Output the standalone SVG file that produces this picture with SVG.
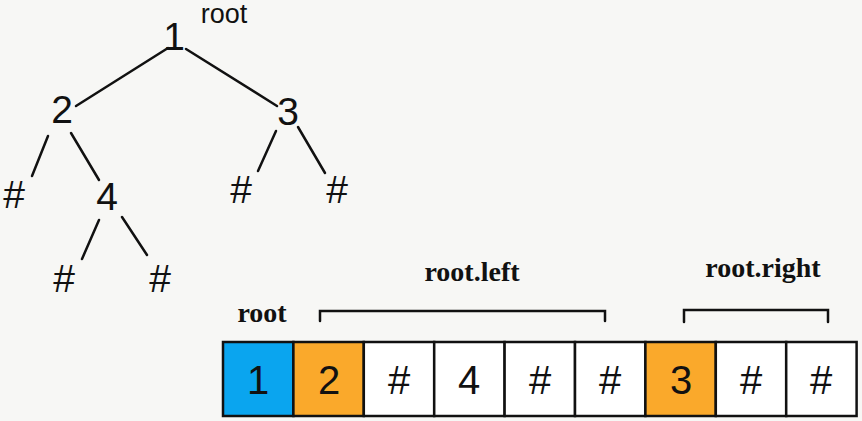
<svg xmlns="http://www.w3.org/2000/svg" width="862" height="421" viewBox="0 0 862 421">
<style>
.t{font-family:"Liberation Sans",Arial,sans-serif;fill:#111;text-anchor:middle}
.n{font-size:39px}
.a{font-size:40px}
.s{font-family:"Liberation Serif","Times New Roman",serif;font-weight:bold;font-size:28px;fill:#111;text-anchor:middle}
.e{stroke:#111;stroke-width:2.5;fill:none;stroke-linecap:round}
.c{stroke:#111;stroke-width:2.5}
.w{fill:#fff}
.b{fill:#0aa5ef}
.o{fill:#faa92b}
</style>
<rect width="862" height="421" fill="#f7f7f5"/>
<g id="edges">
<line class="e" x1="168" y1="48" x2="76" y2="106"/>
<line class="e" x1="186" y1="49" x2="277" y2="106"/>
<line class="e" x1="48" y1="136" x2="32" y2="176"/>
<line class="e" x1="71" y1="133" x2="99" y2="180"/>
<line class="e" x1="276" y1="131" x2="258" y2="171"/>
<line class="e" x1="298" y1="127" x2="325" y2="173"/>
<line class="e" x1="99" y1="220" x2="82" y2="259"/>
<line class="e" x1="122" y1="217" x2="147" y2="255"/>
</g>
<g id="tree-root-label"><text class="t" x="224" y="23" font-size="27">root</text></g>
<g id="node-1"><text class="t n" x="174" y="50">1</text></g>
<g id="node-2"><text class="t n" x="62" y="123">2</text></g>
<g id="node-3"><text class="t n" x="288" y="125">3</text></g>
<g id="node-2-left"><text class="t n" x="14" y="208">#</text></g>
<g id="node-4"><text class="t n" x="107" y="210">4</text></g>
<g id="node-3-left"><text class="t n" x="241" y="203">#</text></g>
<g id="node-3-right"><text class="t n" x="337" y="203">#</text></g>
<g id="node-4-left"><text class="t n" x="64" y="292">#</text></g>
<g id="node-4-right"><text class="t n" x="160" y="292">#</text></g>
<g id="labels">
<text class="s" x="262" y="322">root</text>
<text class="s" x="472" y="281">root.left</text>
<text class="s" x="763" y="277">root.right</text>
<path class="e" d="M320 321 V311 H605 V321"/>
<path class="e" d="M684 322 V310 H828 V322"/>
</g>
<g id="array">
<rect class="c b" x="223" y="342" width="70.4" height="74"/>
<rect class="c o" x="293.4" y="342" width="70.4" height="74"/>
<rect class="c w" x="363.8" y="342" width="70.4" height="74"/>
<rect class="c w" x="434.2" y="342" width="70.4" height="74"/>
<rect class="c w" x="504.6" y="342" width="70.4" height="74"/>
<rect class="c w" x="575" y="342" width="70.4" height="74"/>
<rect class="c o" x="645.4" y="342" width="70.4" height="74"/>
<rect class="c w" x="715.8" y="342" width="70.4" height="74"/>
<rect class="c w" x="786.2" y="342" width="70.4" height="74"/>
<text class="t a" x="258" y="394">1</text>
<text class="t a" x="329" y="394">2</text>
<text class="t a" x="399" y="394">#</text>
<text class="t a" x="469" y="394">4</text>
<text class="t a" x="540" y="394">#</text>
<text class="t a" x="610" y="394">#</text>
<text class="t a" x="681" y="394">3</text>
<text class="t a" x="751" y="394">#</text>
<text class="t a" x="821" y="394">#</text>
</g>
</svg>
